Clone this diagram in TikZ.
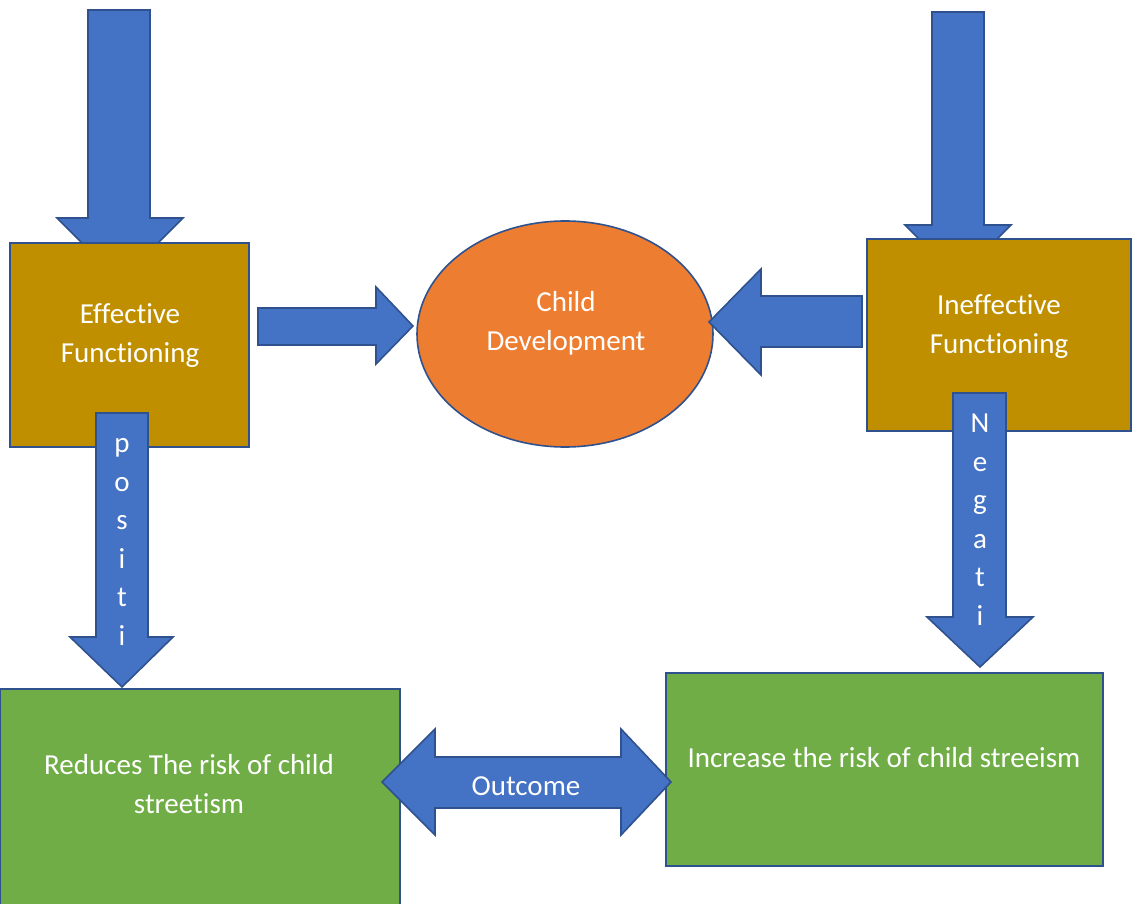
\documentclass[tikz,border=0pt]{standalone}
\usepackage{fontspec}
\setmainfont{Carlito}[Ligatures=NoCommon]
\definecolor{arrowblue}{HTML}{4472C4}
\definecolor{edgeblue}{HTML}{2F528F}
\definecolor{gold}{HTML}{BF8F00}
\definecolor{orangefill}{HTML}{ED7D31}
\definecolor{greenfill}{HTML}{70AD47}
\begin{document}
\begin{tikzpicture}[x=1pt,y=-1pt,
  blockarrow/.style={fill=arrowblue,draw=edgeblue,line width=1.6pt,line join=miter},
  goldbox/.style={fill=gold,draw=edgeblue,line width=1.6pt},
  greenbox/.style={fill=greenfill,draw=edgeblue,line width=1.6pt},
  lbl/.style={text=white,font=\fontsize{29}{38.5}\selectfont,align=center,inner sep=0pt,anchor=base}]
\useasboundingbox (0,0) rectangle (1136,904);
% top incoming arrows
\draw[blockarrow] (88,10) -- (150,10) -- (150,218) -- (183,218) -- (120,281) -- (57,218) -- (88,218) -- cycle;
\draw[blockarrow] (932,12) -- (984,12) -- (984,225) -- (1011,225) -- (958,278) -- (905,225) -- (932,225) -- cycle;
% gold boxes
\draw[goldbox] (10,243) rectangle (249,447);
\draw[goldbox] (867,239) rectangle (1131,431);
\node[lbl] (eff) at (130,362) {Effective\\Functioning};
\node[lbl] (ineff) at (999,353) {Ineffective\\Functioning};
% ellipse
\draw[fill=orangefill,draw=edgeblue,line width=1.6pt] (565,334) ellipse [x radius=148, y radius=113];
\node[lbl] (child) at (566,350) {Child\\Development};
% arrows to ellipse
\draw[blockarrow] (258,308) -- (376,308) -- (376,287) -- (413,326) -- (376,364) -- (376,345) -- (258,345) -- cycle;
\draw[blockarrow] (862,296) -- (761,296) -- (761,269) -- (709,322) -- (761,375) -- (761,347) -- (862,347) -- cycle;
% vertical labelled arrows
\draw[blockarrow] (96,413) -- (148,413) -- (148,637) -- (173,637) -- (122,687) -- (70,637) -- (96,637) -- cycle;
\node[lbl] (pos) at (122,645) {p\\o\\s\\i\\t\\i};
\draw[blockarrow] (953,393) -- (1006,393) -- (1006,617) -- (1033,617) -- (980,667) -- (927,617) -- (953,617) -- cycle;
\node[lbl] (neg) at (980,625) {N\\e\\g\\a\\t\\i};
% green boxes
\draw[greenbox] (0,689) rectangle (400,910);
\draw[greenbox] (666,673) rectangle (1103,866);
\node[lbl] (red) at (189,813) {Reduces The risk of child\\streetism};
\node[lbl] (inc) at (884,767) {Increase the risk of child streeism};
% outcome double arrow
\draw[blockarrow] (382,782) -- (435,729) -- (435,757) -- (621,757) -- (621,729) -- (671,782) -- (621,835) -- (621,808) -- (435,808) -- (435,835) -- cycle;
\node[lbl] (out) at (526,795) {Outcome};
\end{tikzpicture}
\end{document}
